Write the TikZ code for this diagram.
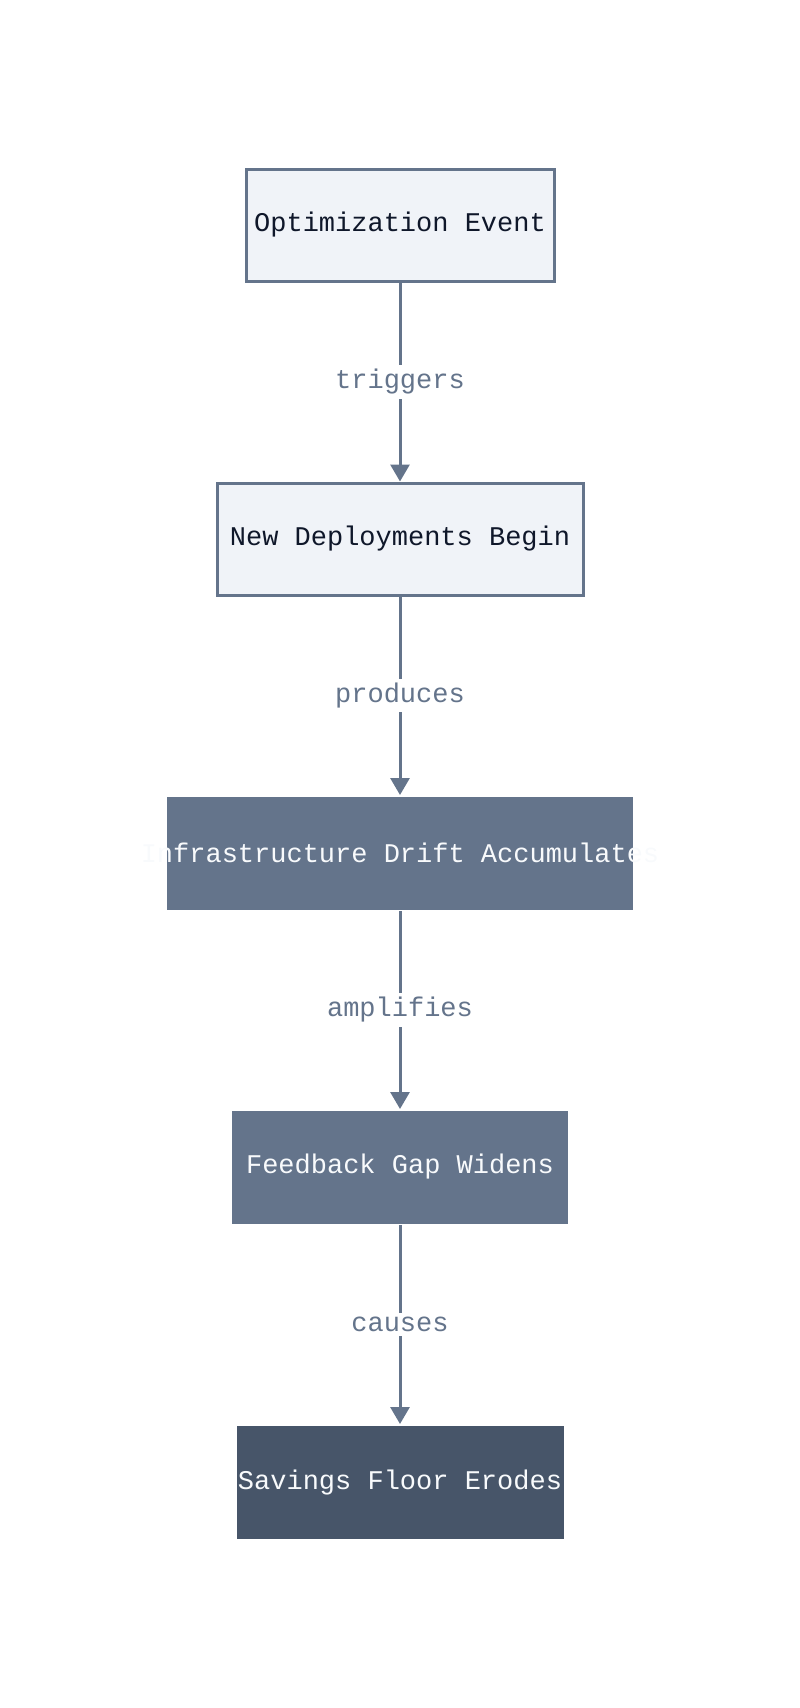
\documentclass[tikz,border=0pt]{standalone}
\usepackage{fontspec}
\setmonofont{Liberation Mono}
\usetikzlibrary{arrows.meta}
\definecolor{edge}{HTML}{64748B}
\definecolor{lightfill}{HTML}{F0F3F8}
\definecolor{darkfill}{HTML}{475569}
\definecolor{ink}{HTML}{0F172A}
\definecolor{paper}{HTML}{F8FAFC}
\tikzset{
  base/.style={rectangle, inner sep=0pt, font=\ttfamily\fontsize{27}{30}\selectfont, line width=3pt},
  lightbox/.style={base, draw=edge, fill=lightfill, text=ink},
  midbox/.style={base, fill=edge, text=paper},
  darkbox/.style={base, fill=darkfill, text=paper},
  lbl/.style={fill=white, inner sep=4pt, text=edge, font=\ttfamily\fontsize{27}{30}\selectfont},
  conn/.style={draw=edge, line width=3pt, -{Triangle[length=17pt,width=19pt]}}
}
\begin{document}
\begin{tikzpicture}[x=1pt,y=-1pt]
\useasboundingbox (0,0) rectangle (800,1708);
\node[lightbox, minimum width=308pt, minimum height=112pt] (a) at (400,225) {Optimization Event};
\node[lightbox, minimum width=366pt, minimum height=112pt] (b) at (400,539) {New Deployments Begin};
\node[midbox, minimum width=466pt, minimum height=113pt] (c) at (400,853) {\makebox[0pt]{Infrastructure Drift Accumulates}};
\node[midbox, minimum width=336pt, minimum height=113pt] (d) at (400,1167) {Feedback Gap Widens};
\node[darkbox, minimum width=327pt, minimum height=113pt] (e) at (400,1482) {Savings Floor Erodes};
\draw[conn] (a) -- node[lbl]{triggers} (b);
\draw[conn] (b) -- node[lbl]{produces} (c);
\draw[conn] (c) -- node[lbl]{amplifies} (d);
\draw[conn] (d) -- node[lbl]{causes} (e);
\end{tikzpicture}
\end{document}
